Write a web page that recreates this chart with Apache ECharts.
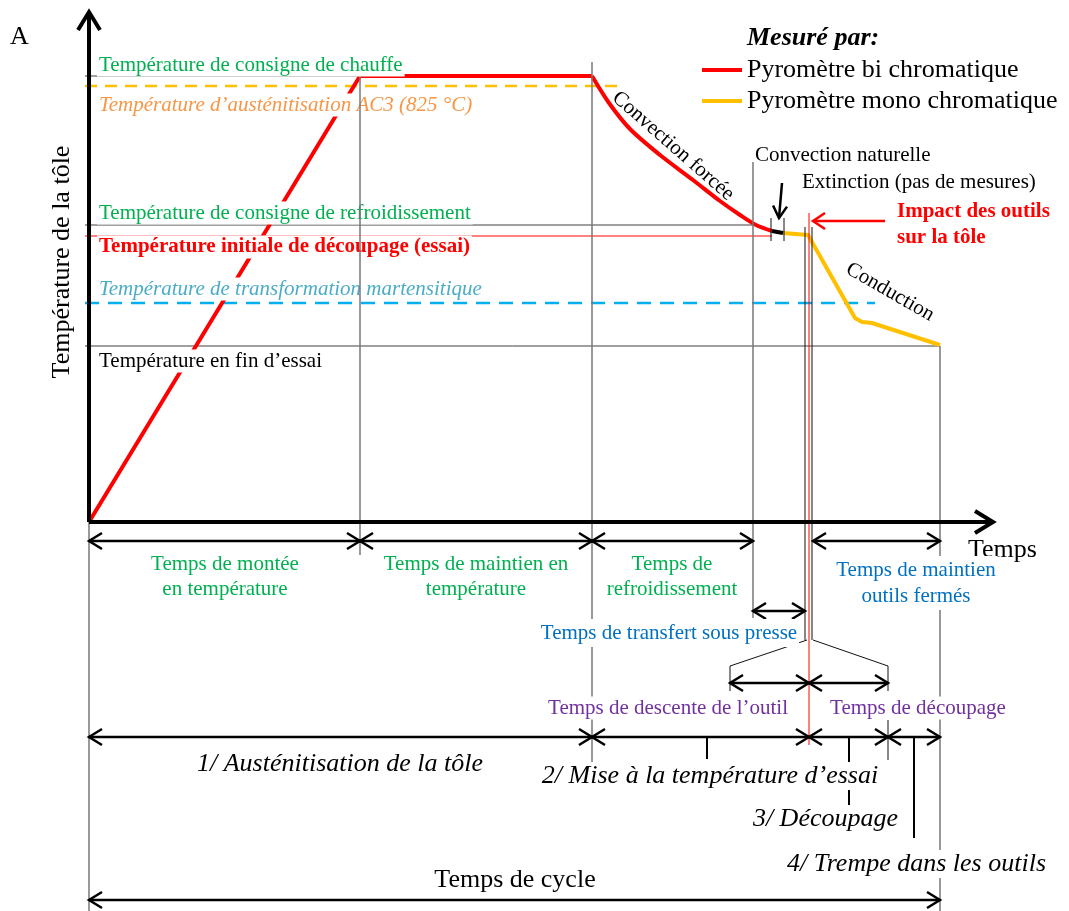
<!DOCTYPE html>
<html>
<head>
<meta charset="utf-8">
<title>Cycle thermique de l'essai</title>
<script src="https://cdn.jsdelivr.net/npm/echarts@6/dist/echarts.min.js"></script>
<style>
html, body { margin: 0; padding: 0; background: #fff; }
#chart { width: 1069px; height: 911px; }
</style>
</head>
<body>
<div id="chart"></div>
<script>
// time and temperature are schematic units, origin at the axes corner

// reference temperature levels and where their lines stop
var levelTemps = [446, 436, 297, 286, 219, 176];
var levelEnds = [271, 531, 668, 683, 786, 851];

// red curve (bi chromatic pyrometer): ramp + hold, then forced convection
var heatTimes = [0, 271, 503];
var heatTemps = [0, 446, 446];
var coolTimes = [503, 520, 541, 571, 604, 631, 651, 667, 683];
var coolTemps = [446, 419, 393, 367, 342, 321, 307, 297, 291];
// natural convection piece (no measure)
var natTimes = [683, 694];
var natTemps = [291, 289];
// orange curve (mono chromatic pyrometer)
var monoTimes = [694, 719, 766, 773, 783, 851];
var monoTemps = [289, 287, 204, 200, 199, 177];

// vertical guides [t1, T1, t2, T2]
var guideLines = [
    [0, 0, 0, -389],
    [271, 446, 271, -33],
    [503, 460, 503, -245],
    [664, 360, 664, -96],
    [851, 176, 851, -389]
];
var toolLines = [
    [716, 295, 716, -118], [723, 295, 723, -118],
    [682, 304, 682, 281], [695, 304, 695, 281],
    [718, -118, 641, -144], [641, -144, 641, -169],
    [724, -118, 799, -144], [799, -144, 799, -169],
    [799, -198, 799, -238]
];
var impactLine = [[720, 309, 720, -223]];
var phaseTicks = [[618, -215, 618, -237], [760, -215, 760, -286], [825, -215, 825, -316]];

// double arrows under the time axis [start, end, level]
var spans = [
    [0, 271, -19], [271, 503, -19], [503, 664, -19], [724, 851, -19],
    [664, 716, -89],
    [641, 720, -161], [720, 799, -161],
    [0, 503, -215], [503, 720, -215], [720, 799, -215], [799, 851, -215],
    [0, 851, -378]
];
var axisArrows = [[0, 0, 0, 510], [0, 0, 904, 0]];
var pointerBlack = [[693, 339, 690, 304]];
var pointerRed = [[796, 301, 724, 301]];

var noteTexts = [
    "A",
    "Température de consigne de chauffe",
    "Température d’austénitisation AC3 (825 °C)",
    "Température de consigne de refroidissement",
    "Température initiale de découpage (essai)",
    "Température de transformation martensitique",
    "Température en fin d’essai",
    "Température de la tôle",
    "Convection forcée",
    "Convection naturelle",
    "Extinction (pas de mesures)",
    "Impact des outils\nsur la tôle",
    "Conduction",
    "Temps",
    "Temps de montée\nen température",
    "Temps de maintien en\ntempérature",
    "Temps de\nrefroidissement",
    "Temps de maintien\noutils fermés",
    "Temps de transfert sous presse",
    "Temps de descente de l’outil",
    "Temps de découpage",
    "1/ Austénitisation de la tôle",
    "2/ Mise à la température d’essai",
    "3/ Découpage",
    "4/ Trempe dans les outils",
    "Temps de cycle"
];
var noteAnchors = [
    [-79, 485], [8, 457], [8, 417], [8, 309], [8, 275], [8, 233], [8, 161],
    [-27, 260], [584, 376], [666, 367], [713, 340], [808, 297], [801, 230], [879, -28],
    [136, -55], [387, -55], [583, -55], [827, -61], [580, -111], [579, -186], [829, -186],
    [251, -242], [621, -254], [811, -297], [959, -342], [426, -358]
];
var noteKinds = [
    "big", "green", "orange", "green", "red", "cyan", "black",
    "yTitle", "forced", "plain", "plain", "impact", "conduction", "big",
    "greenC", "greenC", "greenC", "blueC", "blueC", "purple", "purple",
    "phase", "phase", "phaseR", "phaseR", "bigC"
];

var FONT = '"Liberation Serif", "Times New Roman", serif';

var kindStyle = {
    big: { color: "#000", size: 26, align: "left" },
    bigC: { color: "#000", size: 26, align: "center" },
    green: { color: "#00b050", size: 21, align: "left", bg: true },
    orange: { color: "#f79646", size: 21, align: "left", italic: true, bg: true },
    red: { color: "#ff0000", size: 21, align: "left", bold: true, bg: true },
    cyan: { color: "#4bacc6", size: 21, align: "left", italic: true, bg: true },
    black: { color: "#000", size: 21, align: "left", bg: true },
    yTitle: { color: "#000", size: 26, align: "center", rotation: Math.PI / 2 },
    forced: { color: "#000", size: 21, align: "center", rotation: -0.72 },
    conduction: { color: "#000", size: 21, align: "center", rotation: -0.52 },
    plain: { color: "#000", size: 21, align: "left" },
    impact: { color: "#ff0000", size: 21, align: "left", bold: true, lineHeight: 26 },
    greenC: { color: "#00b050", size: 21, align: "center", lineHeight: 25 },
    blueC: { color: "#0070c0", size: 21, align: "center", lineHeight: 26, bg: true },
    purple: { color: "#7030a0", size: 21, align: "center", bg: true },
    phase: { color: "#000", size: 26, align: "center", italic: true, bg: true },
    phaseR: { color: "#000", size: 26, align: "right", italic: true, bg: true }
};

var levelStyles = [
    { stroke: "#404040", lineWidth: 1 },
    { stroke: "#ffc000", lineWidth: 2.5, lineDash: [12, 8] },
    { stroke: "#404040", lineWidth: 1 },
    { stroke: "#ff0000", lineWidth: 1 },
    { stroke: "#00b0f0", lineWidth: 2.5, lineDash: [14, 9] },
    { stroke: "#404040", lineWidth: 1 }
];

function zip(a, b) {
    return a.map(function (v, i) { return [v, b[i]]; });
}

function head(tip, from, len, half) {
    var dx = tip[0] - from[0], dy = tip[1] - from[1];
    var d = Math.sqrt(dx * dx + dy * dy) || 1;
    var ux = dx / d, uy = dy / d;
    var bx = tip[0] - ux * len, by = tip[1] - uy * len;
    return [[bx - uy * half, by + ux * half], tip, [bx + uy * half, by - ux * half]];
}

function segmentSeries(id, data, style, z) {
    return {
        type: "custom", id: id, z: z, silent: true, clip: false,
        encode: { x: [0, 2], y: [1, 3] },
        data: data,
        renderItem: function (params, api) {
            var a = api.coord([api.value(0), api.value(1)]);
            var b = api.coord([api.value(2), api.value(3)]);
            var st = typeof style === "function" ? style(params.dataIndex) : style;
            return {
                type: "line",
                shape: { x1: a[0], y1: a[1], x2: b[0], y2: b[1] },
                style: Object.assign({}, st)
            };
        }
    };
}

function arrowSeries(id, data, color, width, both, len, half, z) {
    return {
        type: "custom", id: id, z: z, silent: true, clip: false,
        encode: { x: [0, 2], y: [1, 3] },
        data: data,
        renderItem: function (params, api) {
            var a = api.coord([api.value(0), api.value(1)]);
            var b = api.coord([api.value(2), api.value(3)]);
            var st = { stroke: color, lineWidth: width, fill: "none", lineJoin: "miter" };
            var kids = [
                { type: "line", shape: { x1: a[0], y1: a[1], x2: b[0], y2: b[1] }, style: Object.assign({}, st) },
                { type: "polyline", shape: { points: head(b, a, len, half) }, style: Object.assign({}, st) }
            ];
            if (both) {
                kids.push({ type: "polyline", shape: { points: head(a, b, len, half) }, style: Object.assign({}, st) });
            }
            return { type: "group", children: kids };
        }
    };
}

function textSeries(id, idx, z) {
    return {
        type: "custom", id: id, z: z, silent: true, clip: false,
        encode: { x: 0, y: 1 },
        data: idx.map(function (i) { return noteAnchors[i]; }),
        renderItem: function (params, api) {
            var i = idx[params.dataIndex];
            var s = kindStyle[noteKinds[i]];
            var p = api.coord([api.value(0), api.value(1)]);
            return {
                type: "text", x: p[0], y: p[1], rotation: s.rotation || 0,
                style: {
                    text: noteTexts[i],
                    fill: s.color,
                    fontFamily: FONT,
                    fontSize: s.size,
                    fontStyle: s.italic ? "italic" : "normal",
                    fontWeight: s.bold ? "bold" : "normal",
                    align: s.align,
                    verticalAlign: "middle",
                    lineHeight: s.lineHeight || s.size,
                    backgroundColor: s.bg ? "#fff" : null,
                    padding: s.bg ? [1, 2] : 0
                }
            };
        }
    };
}

var levelIdx = [2, 3, 4, 5, 6];
var otherIdx = [];
for (var n = 0; n < noteTexts.length; n++) {
    if (levelIdx.indexOf(n) < 0) otherIdx.push(n);
}

var chart = echarts.init(document.getElementById("chart"));

var option = {
    animation: false,
    backgroundColor: "#fff",
    title: {
        text: "Mesuré par:",
        left: 747, top: 25, padding: 0,
        textStyle: { fontFamily: FONT, fontSize: 26, fontWeight: "bold", fontStyle: "italic", color: "#000" }
    },
    legend: {
        data: ["Pyromètre bi chromatique", "Pyromètre mono chromatique"],
        orient: "vertical", left: 702, top: 57, padding: 0, itemGap: 5,
        itemWidth: 40, itemHeight: 4, icon: "rect", selectedMode: false,
        textStyle: { fontFamily: FONT, fontSize: 26, color: "#000" }
    },
    grid: { left: 0, right: 0, top: 0, bottom: 0 },
    xAxis: { type: "value", min: -89, max: 980, show: false },
    yAxis: { type: "value", min: -389, max: 522, show: false },
    series: [
        segmentSeries("levels", levelTemps.map(function (T, i) { return [-4, T, levelEnds[i], T]; }),
            function (i) { return levelStyles[i]; }, 1),
        {
            type: "line", name: "Pyromètre bi chromatique", z: 3, silent: true,
            data: zip(heatTimes, heatTemps), symbol: "none",
            lineStyle: { color: "#ff0000", width: 4 }, itemStyle: { color: "#ff0000" }
        },
        {
            type: "line", name: "Pyromètre bi chromatique", z: 3, silent: true, smooth: 0.3,
            data: zip(coolTimes, coolTemps), symbol: "none",
            lineStyle: { color: "#ff0000", width: 4 }, itemStyle: { color: "#ff0000" }
        },
        {
            type: "line", name: "Pyromètre mono chromatique", z: 3, silent: true,
            data: zip(monoTimes, monoTemps), symbol: "none",
            lineStyle: { color: "#ffc000", width: 4, join: "round" }, itemStyle: { color: "#ffc000" }
        },
        {
            type: "line", name: "convection naturelle", z: 3, silent: true,
            data: zip(natTimes, natTemps), symbol: "none",
            lineStyle: { color: "#000", width: 4 }
        },
        textSeries("levelNotes", levelIdx, 4),
        segmentSeries("guides", guideLines, { stroke: "#777", lineWidth: 1.5 }, 5),
        segmentSeries("tools", toolLines, { stroke: "#111", lineWidth: 1 }, 5),
        segmentSeries("impact", impactLine, { stroke: "#ff0000", lineWidth: 1 }, 5),
        segmentSeries("phaseTicks", phaseTicks, { stroke: "#000", lineWidth: 2 }, 5),
        arrowSeries("spans", spans.map(function (s) { return [s[0], s[2], s[1], s[2]]; }), "#000", 2.5, true, 13, 8, 6),
        arrowSeries("axes", axisArrows, "#000", 4, false, 18, 11, 6),
        arrowSeries("pointerBlack", pointerBlack, "#000", 2.5, false, 12, 7, 6),
        arrowSeries("pointerRed", pointerRed, "#ff0000", 2.5, false, 12, 8, 6),
        textSeries("notes", otherIdx, 7)
    ]
};

chart.setOption(option);
window.addEventListener("resize", function () { chart.resize(); });
</script>
</body>
</html>
